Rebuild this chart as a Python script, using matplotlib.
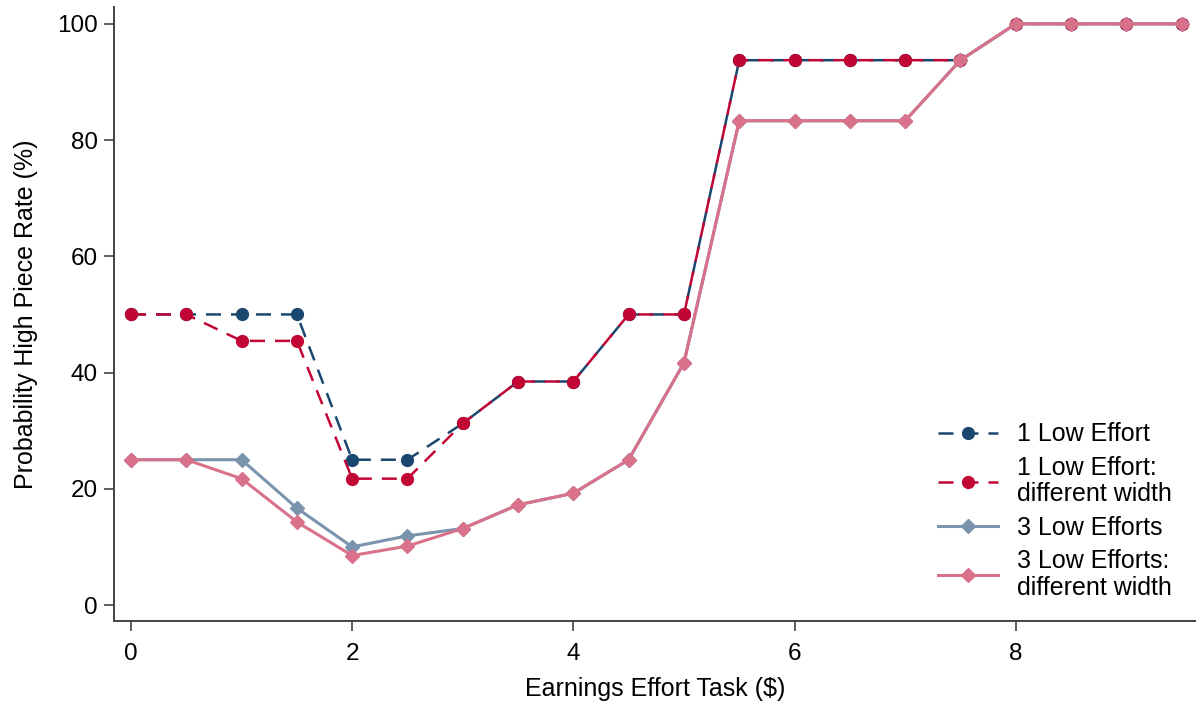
import matplotlib
matplotlib.use("Agg")
import matplotlib.pyplot as plt

plt.rcParams['font.family'] = ['Liberation Sans', 'DejaVu Sans']

# Earnings from the effort task ($)
earnings = [0, 0.5, 1, 1.5, 2, 2.5, 3, 3.5, 4, 4.5, 5, 5.5, 6, 6.5, 7, 7.5, 8, 8.5, 9, 9.5]

# Probability of choosing the high piece rate (%)
one_low = [50, 50, 50, 50, 25, 25, 31.25, 38.46, 38.46, 50, 50,
           93.75, 93.75, 93.75, 93.75, 93.75, 100, 100, 100, 100]
one_low_width = [50, 50, 45.45, 45.45, 21.74, 21.74, 31.25, 38.46, 38.46, 50, 50,
                 93.75, 93.75, 93.75, 93.75, 93.75, 100, 100, 100, 100]
three_low = [25, 25, 25, 16.67, 10, 11.9, 13.16, 17.24, 19.23, 25, 41.67,
             83.33, 83.33, 83.33, 83.33, 93.75, 100, 100, 100, 100]
three_low_width = [25, 25, 21.74, 14.29, 8.51, 10.14, 13.16, 17.24, 19.23, 25, 41.67,
                   83.33, 83.33, 83.33, 83.33, 93.75, 100, 100, 100, 100]

labels = ["1 Low Effort", "1 Low Effort:\ndifferent width",
          "3 Low Efforts", "3 Low Efforts:\ndifferent width"]

c_navy = "#1a476f"
c_red = "#c10534"
c_gray = "#7b94ad"
c_pink = "#d9718a"

fig = plt.figure(figsize=(11.96, 7.02), dpi=100)
ax = fig.add_axes([0.0951, 0.1154, 0.9049, 0.8746])

ax.plot(earnings, one_low, color=c_navy, lw=1.8, dashes=(6, 4),
        marker='o', ms=8.5, label=labels[0], zorder=3)
ax.plot(earnings, one_low_width, color=c_red, lw=1.8, dashes=(6, 4),
        marker='o', ms=8.5, label=labels[1], zorder=4)
ax.plot(earnings, three_low, color=c_gray, lw=2.2,
        marker='D', ms=7.5, label=labels[2], zorder=5)
ax.plot(earnings, three_low_width, color=c_pink, lw=2.2,
        marker='D', ms=7.5, label=labels[3], zorder=6)

ax.set_xlim(-0.156, 9.63)
ax.set_ylim(-2.75, 102.9)
ax.set_xticks([0, 2, 4, 6, 8])
ax.set_yticks([0, 20, 40, 60, 80, 100])

for side in ('top', 'right'):
    ax.spines[side].set_visible(False)
for side in ('left', 'bottom'):
    ax.spines[side].set_color('#444444')
    ax.spines[side].set_linewidth(1.4)

ax.tick_params(axis='both', direction='out', length=7.5, width=1.2,
               color='#444444', labelsize=17.5)
ax.tick_params(axis='x', pad=8)
ax.tick_params(axis='y', pad=4)

ax.set_xlabel("Earnings Effort Task ($)", fontsize=18, labelpad=9)
ax.set_ylabel("Probability High Piece Rate (%)", fontsize=18, labelpad=14)

leg = ax.legend(loc='lower right', bbox_to_anchor=(0.980, 0.146),
                bbox_transform=fig.transFigure, frameon=False, fontsize=18,
                handlelength=2.4, handletextpad=0.75, labelspacing=0.38,
                borderaxespad=0, borderpad=0)
for t in leg.get_texts():
    t.set_linespacing(1.12)

fig.savefig("out.png", dpi=100)
